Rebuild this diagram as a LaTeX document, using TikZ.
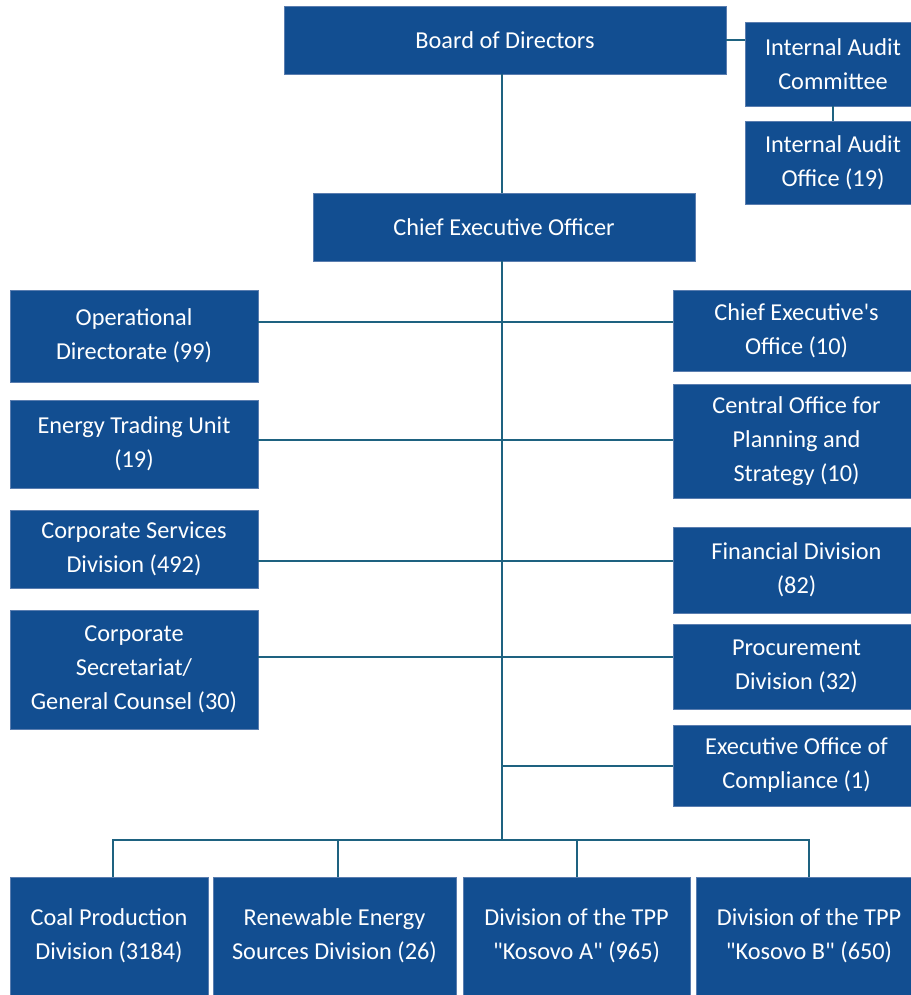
\documentclass[tikz,border=0pt]{standalone}
\usepackage{fontspec}
\setmainfont{Carlito}[Ligatures=TeXOff]
\definecolor{boxblue}{RGB}{18,78,145}
\definecolor{edgeblue}{RGB}{90,125,175}
\definecolor{linecol}{RGB}{30,98,128}
\begin{document}
\begin{tikzpicture}[x=1pt,y=-1pt,
  box/.style={rectangle, fill=boxblue, draw=edgeblue, line width=0.6pt, text=white, inner sep=0pt, align=center,
    font=\fontsize{24.3}{34}\selectfont},
  conn/.style={draw=linecol, line width=2pt}]
\useasboundingbox (0,0) rectangle (910,995);
% top
\node[box, minimum width=442, minimum height=68] (board) at (505,40) {Board of Directors};
\node[box, minimum width=176, minimum height=84] (iac) at (833,64) {Internal Audit\\Committee};
\node[box, minimum width=176, minimum height=83] (iao) at (833,162.5) {Internal Audit\\Office (19)};
\node[box, minimum width=382, minimum height=68] (ceo) at (504,227) {Chief Executive Officer};
% left column
\node[box, minimum width=248, minimum height=92] (op) at (134,336) {Operational\\Directorate (99)};
\node[box, minimum width=248, minimum height=88] (etu) at (134,444) {Energy Trading Unit\\(19)};
\node[box, minimum width=248, minimum height=78] (csd) at (134,549) {Corporate Services\\Division (492)};
\node[box, minimum width=248, minimum height=119] (sec) at (134,669.5) {Corporate\\Secretariat/\\General Counsel (30)};
% right column
\node[box, minimum width=247, minimum height=81] (ceoff) at (796.5,330.5) {Chief Executive's\\Office (10)};
\node[box, minimum width=247, minimum height=114] (cop) at (796.5,441) {Central Office for\\Planning and\\Strategy (10)};
\node[box, minimum width=247, minimum height=86] (fin) at (796.5,570) {Financial Division\\(82)};
\node[box, minimum width=247, minimum height=85] (proc) at (796.5,666.5) {Procurement\\Division (32)};
\node[box, minimum width=247, minimum height=81] (comp) at (796.5,765.5) {Executive Office of\\Compliance (1)};
% bottom row
\node[box, minimum width=198, minimum height=118] (coal) at (109,936) {Coal Production\\Division (3184)};
\node[box, minimum width=243, minimum height=118] (ren) at (334.5,936) {Renewable Energy\\Sources Division (26)};
\node[box, minimum width=227, minimum height=118] (ka) at (576.5,936) {Division of the TPP\\"Kosovo A" (965)};
\node[box, minimum width=226, minimum height=118] (kb) at (809,936) {Division of the TPP\\"Kosovo B" (650)};
% helper coordinates
\coordinate (T) at (502,840);
\coordinate (r1) at (0,322);
\coordinate (r2) at (0,440);
\coordinate (r3) at (0,561);
\coordinate (r4) at (0,657);
% connectors
\draw[conn] (board.east) -- (iac.west |- board.east);
\draw[conn] (iac.south) -- (iao.north);
\draw[conn] (board.south -| T) -- (ceo.north -| T);
\draw[conn] (ceo.south -| T) -- (T);
\draw[conn] (op.east |- r1) -- (ceoff.west |- r1);
\draw[conn] (etu.east |- r2) -- (cop.west |- r2);
\draw[conn] (csd.east |- r3) -- (fin.west |- r3);
\draw[conn] (sec.east |- r4) -- (proc.west |- r4);
\draw[conn] (T |- comp.west) -- (comp.west);
\draw[conn] ([xshift=4pt]coal.north) -- ([xshift=4pt]coal.north |- T) -- (kb.north |- T) -- (kb.north);
\draw[conn] ([xshift=3.5pt]ren.north) -- ([xshift=3.5pt]ren.north |- T);
\draw[conn] (ka.north) -- (ka.north |- T);
\end{tikzpicture}
\end{document}
